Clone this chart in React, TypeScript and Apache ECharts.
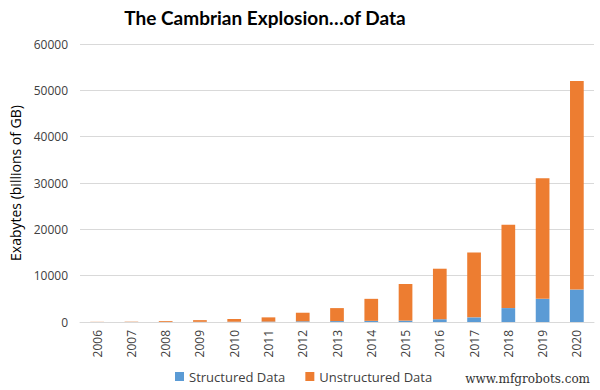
import React, { useEffect, useRef } from "react";
import * as echarts from "echarts";

const years = ["2006", "2007", "2008", "2009", "2010", "2011", "2012", "2013", "2014", "2015", "2016", "2017", "2018", "2019", "2020"];
const totals = [40, 70, 200, 400, 650, 1000, 2000, 3000, 5000, 8200, 11500, 15000, 21000, 31000, 52000];
const structured = [5, 10, 20, 40, 60, 90, 150, 200, 250, 300, 600, 1000, 3000, 5000, 7000];
const unstructured = totals.map((t, i) => t - structured[i]);
const yTicks = [0, 10000, 20000, 30000, 40000, 50000, 60000];

export default function App() {
  const ref = useRef<HTMLDivElement>(null);
  useEffect(() => {
    const chart = echarts.init(ref.current!, null, { renderer: "svg" });
    chart.setOption({
      animation: false,
      backgroundColor: "#ffffff",
      title: {
        text: "The Cambrian Explosion…of Data",
        left: 260,
        textAlign: "center",
        top: 3,
        textStyle: { fontFamily: "Lato", fontWeight: "bold", fontSize: 19, color: "#000000" },
      },
      legend: {
        bottom: 2,
        left: 170,
        itemWidth: 9,
        itemHeight: 9,
        itemGap: 20,
        icon: "rect",
        textStyle: { fontFamily: "Open Sans", fontSize: 13, color: "#404040" },
        data: ["Structured Data", "Unstructured Data"],
      },
      grid: { left: 78, right: 6, top: 44, bottom: 68 },
      xAxis: {
        type: "category",
        data: years,
        axisLine: { lineStyle: { color: "#d9d9d9" } },
        axisTick: { show: false },
        axisLabel: { rotate: 90, color: "#404040", fontFamily: "Open Sans", fontSize: 12, margin: 8 },
      },
      yAxis: {
        type: "value",
        min: yTicks[0],
        max: yTicks[yTicks.length - 1],
        interval: 10000,
        name: "Exabytes (billions of GB)",
        nameLocation: "middle",
        nameGap: 58,
        nameTextStyle: { fontFamily: "Open Sans", fontSize: 14, color: "#000000" },
        axisLine: { show: false },
        axisTick: { show: false },
        splitLine: { lineStyle: { color: "#d9d9d9" } },
        axisLabel: {
          color: "#404040",
          fontFamily: "Open Sans",
          fontSize: 12,
          margin: 12,
          formatter: (v: number) => String(v),
        },
      },
      series: [
        {
          name: "Structured Data",
          type: "bar",
          stack: "total",
          barWidth: "40%",
          itemStyle: { color: "#5B9BD5" },
          data: structured,
        },
        {
          name: "Unstructured Data",
          type: "bar",
          stack: "total",
          barWidth: "40%",
          itemStyle: { color: "#ED7D31" },
          data: unstructured,
        },
      ],
      graphic: [
        {
          type: "text",
          right: 10,
          bottom: 5,
          style: { text: "www.mfgrobots.com", fontFamily: "DejaVu Serif", fontSize: 12, fill: "#333333" },
        },
      ],
    });
    return () => chart.dispose();
  }, []);
  return <div ref={ref} style={{ width: 600, height: 390, position: "absolute", left: 0, top: 0 }} />;
}
